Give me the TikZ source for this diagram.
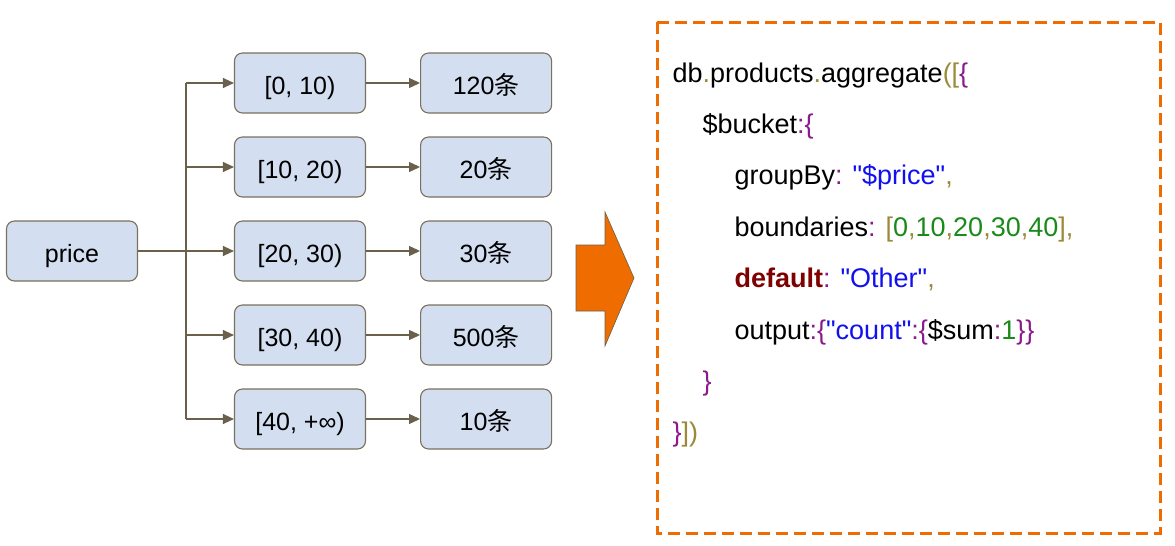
\documentclass[tikz,border=0pt]{standalone}
\usepackage{fontspec}
\setmainfont{Liberation Sans}[Ligatures=TeXOff]
\newfontfamily\cjk{Noto Sans CJK SC}
\usetikzlibrary{positioning, arrows.meta}

\definecolor{boxfill}{HTML}{D3DFF0}
\definecolor{boxline}{HTML}{7A705E}
\definecolor{linkcol}{HTML}{6B604C}
\definecolor{hotorange}{HTML}{EF6C00}
\definecolor{punctcol}{HTML}{9A8A3A}
\definecolor{bracecol}{HTML}{8B1A8B}
\definecolor{strcol}{HTML}{1010F0}
\definecolor{numcol}{HTML}{1A8A1A}
\definecolor{keycol}{HTML}{7F0000}

\newcommand{\pn}[1]{\textcolor{punctcol}{#1}}
\newcommand{\br}[1]{\textcolor{bracecol}{#1}}
\newcommand{\st}[1]{\textcolor{strcol}{"#1"}}
\newcommand{\nm}[1]{\textcolor{numcol}{#1}}
\newcommand{\kw}[1]{\textcolor{keycol}{\bfseries #1}}

\begin{document}
\begin{tikzpicture}[x=1pt,y=-1pt,>={Triangle[length=11pt,width=10pt]},line width=1.1pt,
    bucketbox/.style={draw=boxline,fill=boxfill,rounded corners=8pt,minimum width=131pt,minimum height=60pt,
      text height=24pt,text depth=1pt,font=\fontsize{25}{27}\selectfont},
    link/.style={draw=linkcol,line width=1.1pt},
    codeline/.style={anchor=base west,inner sep=0pt,font=\fontsize{27}{30}\selectfont}]
    \useasboundingbox (0,0) rectangle (1175,546);

    % fields and buckets
    \node[bucketbox] (price) at (72,251) {price};
    \node[bucketbox] (r1) at (300,83) {[0, 10)};
    \node[bucketbox] (r2) [below=22.9pt of r1] {[10, 20)};
    \node[bucketbox] (r3) [below=22.9pt of r2] {[20, 30)};
    \node[bucketbox] (r4) [below=22.9pt of r3] {[30, 40)};
    \node[bucketbox] (r5) [below=22.9pt of r4] {[40, +∞)};
    \node[bucketbox] (c1) [right=54pt of r1] {120{\cjk 条}};
    \node[bucketbox] (c2) [right=54pt of r2] {20{\cjk 条}};
    \node[bucketbox] (c3) [right=54pt of r3] {30{\cjk 条}};
    \node[bucketbox] (c4) [right=54pt of r4] {500{\cjk 条}};
    \node[bucketbox] (c5) [right=54pt of r5] {10{\cjk 条}};

    \coordinate (trunk) at (186,251);
    \path[link] (price) -- (trunk);
    \path[link] (trunk |- r1.west) -- (trunk |- r5.west);
    \path[link,->] (trunk |- r1.west) -- (r1);
    \path[link,->] (trunk |- r2.west) -- (r2);
    \path[link,->] (trunk |- r3.west) -- (r3);
    \path[link,->] (trunk |- r4.west) -- (r4);
    \path[link,->] (trunk |- r5.west) -- (r5);
    \path[link,->] (r1) -- (c1);
    \path[link,->] (r2) -- (c2);
    \path[link,->] (r3) -- (c3);
    \path[link,->] (r4) -- (c4);
    \path[link,->] (r5) -- (c5);

    % big arrow
    \draw[fill=hotorange,draw=linkcol,line width=0.6pt] (576,245) -- (605,245) -- (605,212) -- (634,278)
        -- (605,346) -- (605,311) -- (576,311) -- cycle;

    % code panel
    \draw[hotorange,line width=3pt,dash pattern=on 12pt off 6pt] (657,22) rectangle (1160,533);
    \node[codeline] (l1) at (672,82) {db\pn{.}products\pn{.}aggregate\pn{([}\br{\{}};
    \node[codeline] (l2) at (702,133) {\$bucket\br{:\{}};
    \node[codeline] (l3) at (734,184) {groupBy\br{:} \st{\$price}\pn{,}};
    \node[codeline] (l4) at (734,236) {boundaries\br{:} \pn{[}\nm{0}\pn{,}\nm{10}\pn{,}\nm{20}\pn{,}\nm{30}\pn{,}\nm{40}\pn{],}};
    \node[codeline] (l5) at (734,287) {\kw{default}\br{:} \st{Other}\pn{,}};
    \node[codeline] (l6) at (734,339) {output\br{:\{}\st{count}\br{:\{}\$sum\br{:}\nm{1}\br{\}\}}};
    \node[codeline] (l7) at (702,390) {\br{\}}};
    \node[codeline] (l8) at (672,441) {\br{\}}\pn{])}};
\end{tikzpicture}
\end{document}
